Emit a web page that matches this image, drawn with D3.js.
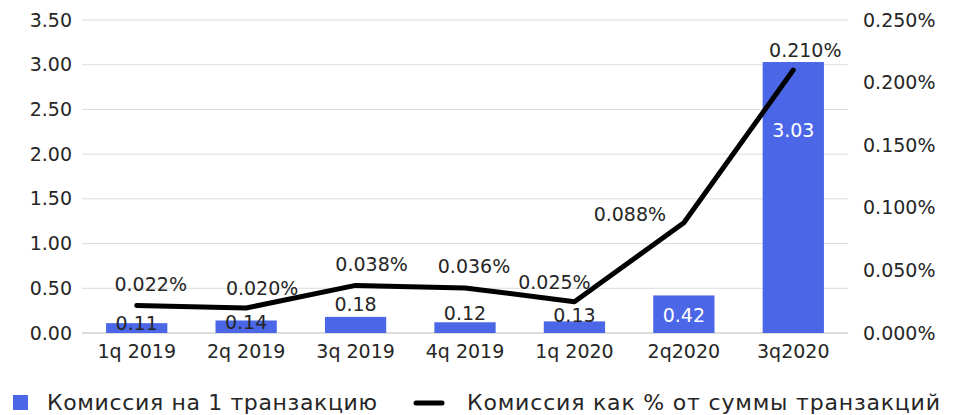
<!DOCTYPE html>
<html><head><meta charset="utf-8">
<script src="https://cdn.jsdelivr.net/npm/d3@7"></script>
<style>body{margin:0;background:#fff}svg{display:block}text{font-family:"DejaVu Sans",sans-serif;fill:#262626}</style>
</head><body>
<svg id="c" width="964" height="415"></svg>
<script>
const categories = ["1q 2019","2q 2019","3q 2019","4q 2019","1q 2020","2q2020","3q2020"];
const barValues = [0.11,0.14,0.18,0.12,0.13,0.42,3.03];
const barLabels = ["0.11","0.14","0.18","0.12","0.13","0.42","3.03"];
const lineValues = [0.022,0.020,0.038,0.036,0.025,0.088,0.210];
const lineLabels = ["0.022%","0.020%","0.038%","0.036%","0.025%","0.088%","0.210%"];
const leftTicks = [0,0.5,1,1.5,2,2.5,3,3.5];
const rightTicks = [0,0.05,0.1,0.15,0.2,0.25];
const seriesNames = ["Комиссия на 1 транзакцию","Комиссия как % от суммы транзакций"];

// layout tweaks (label offsets, px)
const barLabelDy = [0,2,-12,-9,-6,20,68];
const barLabelInside = [false,false,false,false,false,true,true];
const lineLabelDx = [14,16,16,9,-20,-54,12];
const lineLabelDy = [-21,-19,-21,-21,-19,-8,-20];

const svg = d3.select("#c");
const L=82, R=848, T=20, B=333;
const x = d3.scaleBand().domain(categories).range([L,R]).paddingInner(0.44).paddingOuter(0.22);
const yL = d3.scaleLinear().domain([0,3.5]).range([B,T]);
const yR = d3.scaleLinear().domain([0,0.25]).range([B,T]);
const blue="#4B67E8";
const fs=19;

// grid
svg.append("g").selectAll("line").data(leftTicks).join("line")
  .attr("x1",L).attr("x2",R).attr("y1",d=>yL(d)).attr("y2",d=>yL(d))
  .attr("stroke",d=>d===0?"#d0d0d0":"#dcdcdc").attr("stroke-width",d=>d===0?1.5:1);

// left axis
const ax1 = svg.append("g").attr("transform",`translate(${L},0)`)
  .call(d3.axisLeft(yL).tickValues(leftTicks).tickFormat(d3.format(".2f")).tickSize(0).tickPadding(10));
ax1.select(".domain").remove();
ax1.selectAll("text").style("font-size",fs+"px").attr("fill","#262626");

// right axis
const ax2 = svg.append("g").attr("transform",`translate(${R},0)`)
  .call(d3.axisRight(yR).tickValues(rightTicks).tickFormat(d=>d3.format(".3f")(d)+"%").tickSize(0).tickPadding(15));
ax2.select(".domain").remove();
ax2.selectAll("text").style("font-size",fs+"px").attr("fill","#262626");

// bottom axis
const ax3 = svg.append("g").attr("transform",`translate(0,${B})`)
  .call(d3.axisBottom(x).tickSize(0).tickPadding(12));
ax3.select(".domain").remove();
ax3.selectAll("text").style("font-size",fs+"px").attr("fill","#262626");

// bars
svg.append("g").selectAll("rect").data(barValues).join("rect")
  .attr("x",(d,i)=>x(categories[i])).attr("width",x.bandwidth())
  .attr("y",d=>yL(d)).attr("height",d=>B-yL(d)).attr("fill",blue);

// line
const line = d3.line().x((d,i)=>x(categories[i])+x.bandwidth()/2).y(d=>yR(d));
svg.append("path").datum(lineValues).attr("d",line).attr("fill","none")
  .attr("stroke","#000").attr("stroke-width",5).attr("stroke-linecap","round").attr("stroke-linejoin","round");

// bar labels
svg.append("g").selectAll("text").data(barValues).join("text")
  .attr("x",(d,i)=>x(categories[i])+x.bandwidth()/2)
  .attr("y",(d,i)=>yL(d)+barLabelDy[i]+1)
  .attr("text-anchor","middle").attr("dominant-baseline","middle")
  .style("font-size",fs+"px")
  .style("fill",(d,i)=>barLabelInside[i]?"#fff":"#262626")
  .text((d,i)=>barLabels[i]);

// line labels
svg.append("g").selectAll("text").data(lineValues).join("text")
  .attr("x",(d,i)=>x(categories[i])+x.bandwidth()/2+lineLabelDx[i])
  .attr("y",(d,i)=>yR(d)+lineLabelDy[i]+1)
  .attr("text-anchor","middle").attr("dominant-baseline","middle")
  .style("font-size",fs+"px")
  .text((d,i)=>lineLabels[i]);

// legend
const lg = svg.append("g");
lg.append("rect").attr("x",13).attr("y",395).attr("width",15).attr("height",15).attr("fill",blue);
lg.append("text").attr("x",47).attr("y",404).attr("dominant-baseline","middle").style("font-size","22px")
  .attr("textLength",330).attr("lengthAdjust","spacing").text(seriesNames[0]);
lg.append("line").attr("x1",416).attr("x2",442).attr("y1",403).attr("y2",403).attr("stroke","#000").attr("stroke-width",5).attr("stroke-linecap","round");
lg.append("text").attr("x",467).attr("y",404).attr("dominant-baseline","middle").style("font-size","22px")
  .attr("textLength",473).attr("lengthAdjust","spacing").text(seriesNames[1]);
</script>
</body></html>
